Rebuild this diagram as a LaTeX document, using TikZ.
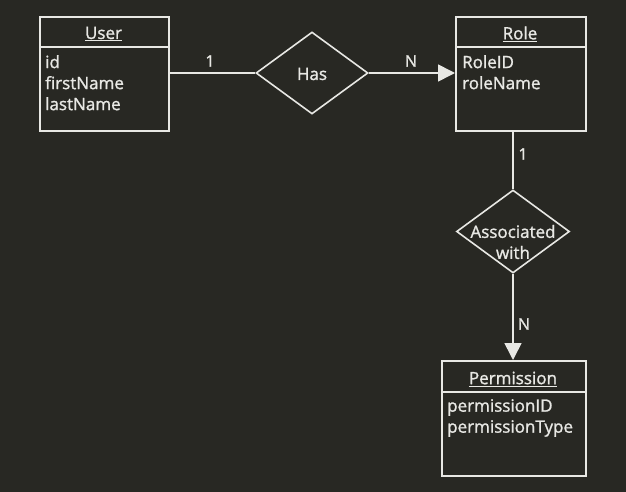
\documentclass[tikz,border=0pt]{standalone}
\usepackage{fontspec}
\setmainfont{Open Sans}[BoldFont={Open Sans},BoldFeatures={FakeBold=1.3}]
\usetikzlibrary{shapes.geometric,arrows.meta}
\definecolor{bg}{RGB}{40,40,35}
\definecolor{fg}{RGB}{232,232,228}
\begin{document}
\begin{tikzpicture}[x=1pt,y=-1pt,
  every node/.style={text=fg,font=\fontsize{17}{21}\selectfont\bfseries},
  entity/.style={draw=fg,line width=1.6pt,rectangle,inner sep=0pt,anchor=north west},
  rel/.style={draw=fg,line width=1.6pt,diamond,inner sep=0pt,shape aspect=1.37},
  title/.style={anchor=center,inner sep=0pt},
  attrs/.style={anchor=north west,inner sep=0pt,align=left},
  conn/.style={draw=fg,line width=1.6pt},
  arr/.style={conn,-{Triangle[length=17pt,width=17pt]}},
  card/.style={inner sep=0pt,font=\fontsize{16}{16}\selectfont\bfseries}]
\useasboundingbox[fill=bg] (0,0) rectangle (626,492);
% User
\node[entity,minimum width=129pt,minimum height=114pt] (user) at (39,16) {};
\draw[conn] (39,47) -- (168,47);
\node[title] (usert) at (103.5,34) {\underline{User}};
\node[attrs] (usera) at (45,55) {id\\firstName\\lastName};
% Role
\node[entity,minimum width=130pt,minimum height=114pt] (role) at (455,16) {};
\draw[conn] (455,47) -- (585,47);
\node[title] (rolet) at (520,34) {\underline{Role}};
\node[attrs] (rolea) at (462,55) {RoleID\\roleName};
% Permission
\node[entity,minimum width=144pt,minimum height=115pt] (perm) at (441,360) {};
\draw[conn] (441,392) -- (585,392);
\node[title] (permt) at (513,379) {\underline{Permission}};
\node[attrs] (perma) at (447,399) {permissionID\\permissionType};
% Has
\node[rel,minimum width=112pt,minimum height=82pt] (has) at (312,73) {};
\node[title] (hast) at (312,74) {Has};
% Associated with
\node[rel,minimum width=113pt,minimum height=83pt] (assoc) at (513,231.5) {};
\node[title,align=center] (assoct) at (513,242) {Associated\\with};
% connectors
\draw[conn] (user.east |- has.west) -- (has.west);
\draw[arr] (has.east) -- (role.west |- has.east);
\draw[conn] (role.south -| assoc.north) -- (assoc.north);
\draw[arr] (assoc.south) -- (perm.north -| assoc.south);
% cardinalities
\node[card] (c1) at (210,61) {1};
\node[card] (c2) at (411,61) {N};
\node[card] (c3) at (523,154) {1};
\node[card] (c4) at (524,324) {N};
\end{tikzpicture}
\end{document}
